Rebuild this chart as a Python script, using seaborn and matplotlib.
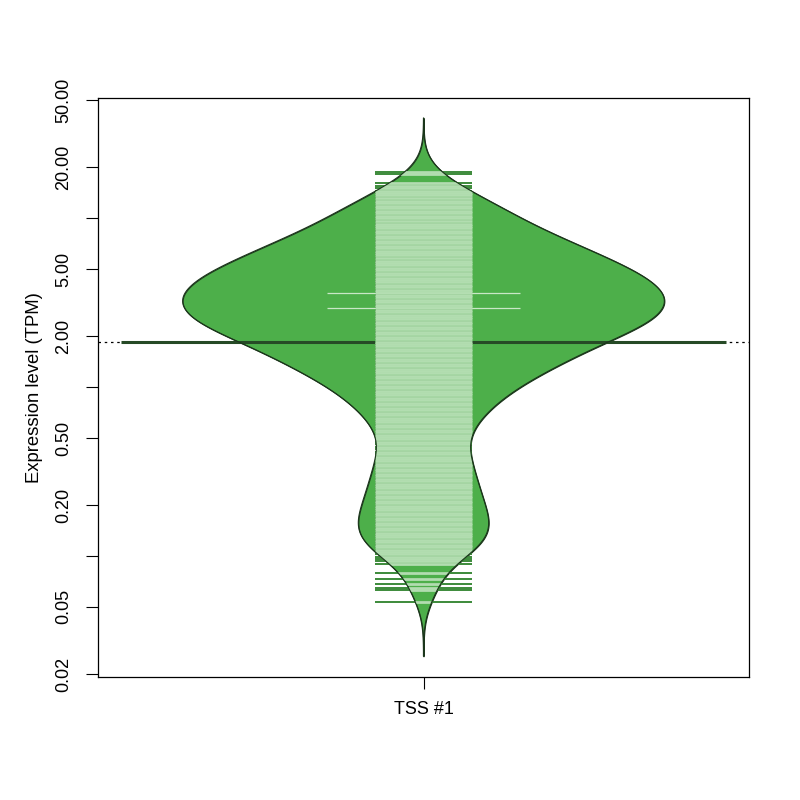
import numpy as np
import pandas as pd
import matplotlib
matplotlib.use("Agg")
import matplotlib.pyplot as plt
import seaborn as sns
from matplotlib.patches import PathPatch
from matplotlib.ticker import NullLocator

top_log10 = [1.274, 1.260, 1.207, 1.191, 1.177, 1.163]
core_log10 = [1.150, 1.136, 1.121, 1.104, 1.090, 1.074, 1.060,
              1.043, 1.029, 1.014, 0.999, 0.985, 0.968, 0.955, 0.940,
              0.925, 0.911, 0.897, 0.881, 0.868, 0.853,
              0.838, 0.824, 0.808, 0.794, 0.780, 0.765, 0.750,
              0.736, 0.721, 0.706, 0.692, 0.678, 0.663,
              0.648, 0.634, 0.620, 0.604, 0.591, 0.575, 0.561, 0.546, 0.532, 0.517,
              0.503,
              0.488, 0.474, 0.459, 0.445, 0.430, 0.416, 0.401, 0.387, 0.372, 0.357,
              0.343, 0.328, 0.314, 0.299, 0.285, 0.270, 0.256, 0.241,
              0.227, 0.212, 0.198, 0.183, 0.168, 0.154, 0.139, 0.125,
              0.110, 0.096, 0.081, 0.067, 0.052, 0.038,
              0.023, 0.009, -0.006, -0.020, -0.035, -0.049, -0.064, -0.078, -0.093,
              -0.107, -0.122, -0.136, -0.151, -0.165, -0.180, -0.194, -0.209, -0.223,
              -0.238, -0.252, -0.267, -0.281, -0.296, -0.310]
core_counts = [2, 2, 2, 2, 2, 2, 2,
               3, 3, 3, 3, 3, 2, 3, 3,
               4, 3, 4, 4, 4, 4,
               5, 5, 5, 5, 5, 5, 5,
               6, 6, 6, 6, 6, 6,
               7, 7, 7, 7, 7, 7, 7, 7, 7, 7,
               8,
               7, 7, 7, 7, 7, 7, 7, 7, 7, 7,
               6, 6, 5, 6, 5, 5, 5, 5,
               5, 4, 5, 4, 4, 4, 4, 4,
               4, 4, 3, 3, 3, 3,
               3, 2, 3, 2, 3, 2, 2, 3, 2,
               2, 1, 2, 2, 1, 2, 2, 1, 2,
               1, 2, 1, 1, 1, 1]
lower_log10 = [-0.324, -0.339, -0.353, -0.368, -0.382, -0.397, -0.411, -0.426, -0.440,
               -0.455, -0.469, -0.484, -0.498, -0.513, -0.527, -0.542, -0.556, -0.571,
               -0.585, -0.600, -0.614, -0.629, -0.643, -0.658, -0.672, -0.687, -0.701,
               -0.716, -0.730, -0.745, -0.759,
               -0.774, -0.788, -0.803, -0.817,
               -0.832, -0.846, -0.861, -0.875, -0.890, -0.904, -0.919, -0.933, -0.948,
               -0.962, -0.977, -0.991, -1.006, -1.020]
lower_counts = [1, 1, 1, 2, 1, 1, 2, 1, 2,
                1, 1, 2, 1, 2, 1, 2, 1, 2,
                1, 2, 2, 1, 2, 2, 1, 2, 2,
                2, 1, 2, 2,
                2, 2, 2, 2,
                2, 2, 2, 2, 2, 2, 2, 2, 2,
                2, 1, 2, 1, 1]
bottom_log10 = [-1.030, -1.048, -1.101, -1.137, -1.166, -1.190, -1.202, -1.273]

tied_tpm = [2.93, 3.59]      # values shared by many samples (longer lines)
mean_tpm = 1.84              # bean mean / overall line
group = "TSS #1"
y_ticks = [0.02, 0.05, 0.1, 0.2, 0.5, 1, 2, 5, 10, 20, 50]
y_tick_labels = ["0.02", "0.05", "", "0.20", "0.50", "", "2.00", "5.00", "", "20.00", "50.00"]

log10_vals = np.array(top_log10 + core_log10 + lower_log10 + bottom_log10)
counts = np.array([1] * len(top_log10) + core_counts + lower_counts + [1] * len(bottom_log10))
tpm = 10 ** log10_vals
df = pd.DataFrame({"group": group, "tpm": np.repeat(tpm, counts)})

sns.set_style("ticks")
plt.rcParams["font.family"] = ["Liberation Sans", "DejaVu Sans"]
plt.rcParams["text.color"] = "black"
plt.rcParams["axes.labelcolor"] = "black"
plt.rcParams["xtick.color"] = "black"
plt.rcParams["ytick.color"] = "black"

GREEN = "#4daf4a"
LIGHT = "#b2ddb0"
DARK_LINE = "#3c8a3a"
EDGE = "#1b361b"
MEAN = "#264a26"

fig = plt.figure(figsize=(8, 8), dpi=100)
ax = fig.add_axes([0.1225, 0.15375, 0.81375, 0.72375])

# overall average (dotted)
ax.axhline(mean_tpm, color="black", lw=0.9, ls=(0, (2, 3)), zorder=1)

bw = 0.107 / np.std(np.log10(df["tpm"]), ddof=1)
sns.violinplot(data=df, x="group", y="tpm", log_scale=True, bw_method=bw, cut=3,
               width=0.74, color=GREEN, saturation=1, linecolor=EDGE, linewidth=0.8,
               inner=None, density_norm="width", gridsize=400, ax=ax, zorder=2)
bean = ax.collections[0].get_paths()[0]

ax.hlines(mean_tpm, -0.465, 0.465, color=MEAN, lw=2.2, zorder=3)
ax.hlines(tied_tpm, -0.148, 0.148, color="#c9e7c7", lw=0.9, zorder=3)
# beanlines: dark where they stick out of the bean, light inside it
ax.hlines(tpm, -0.075, 0.075, color=DARK_LINE, lw=1.4, zorder=4)
light = ax.hlines(tpm, -0.075, 0.075, color=LIGHT, lw=2.0, zorder=5)
light.set_clip_path(bean, ax.transData)
ax.add_patch(PathPatch(bean, transform=ax.transData, fill=False, ec=EDGE, lw=0.8, zorder=6))

ax.set_xlim(-0.5, 0.5)
ax.set_ylim(0.0192, 51.6)
ax.set_yticks(y_ticks)
ax.set_yticklabels(y_tick_labels)
ax.yaxis.set_minor_locator(NullLocator())
ax.tick_params(axis="y", length=8.6, width=0.8, pad=10, labelsize=13,
               labelrotation=90, color="black", labelcolor="black")
for lab in ax.get_yticklabels():
    lab.set_va("center")
ax.tick_params(axis="x", length=8.6, width=0.8, pad=9, labelsize=13,
               color="black", labelcolor="black")
ax.set_xlabel("")
ax.set_ylabel("Expression level (TPM)", fontsize=13.3, labelpad=9, color="black")
for sp in ax.spines.values():
    sp.set_color("black")
    sp.set_linewidth(0.9)

fig.savefig("out.png", dpi=100)
plt.close(fig)
